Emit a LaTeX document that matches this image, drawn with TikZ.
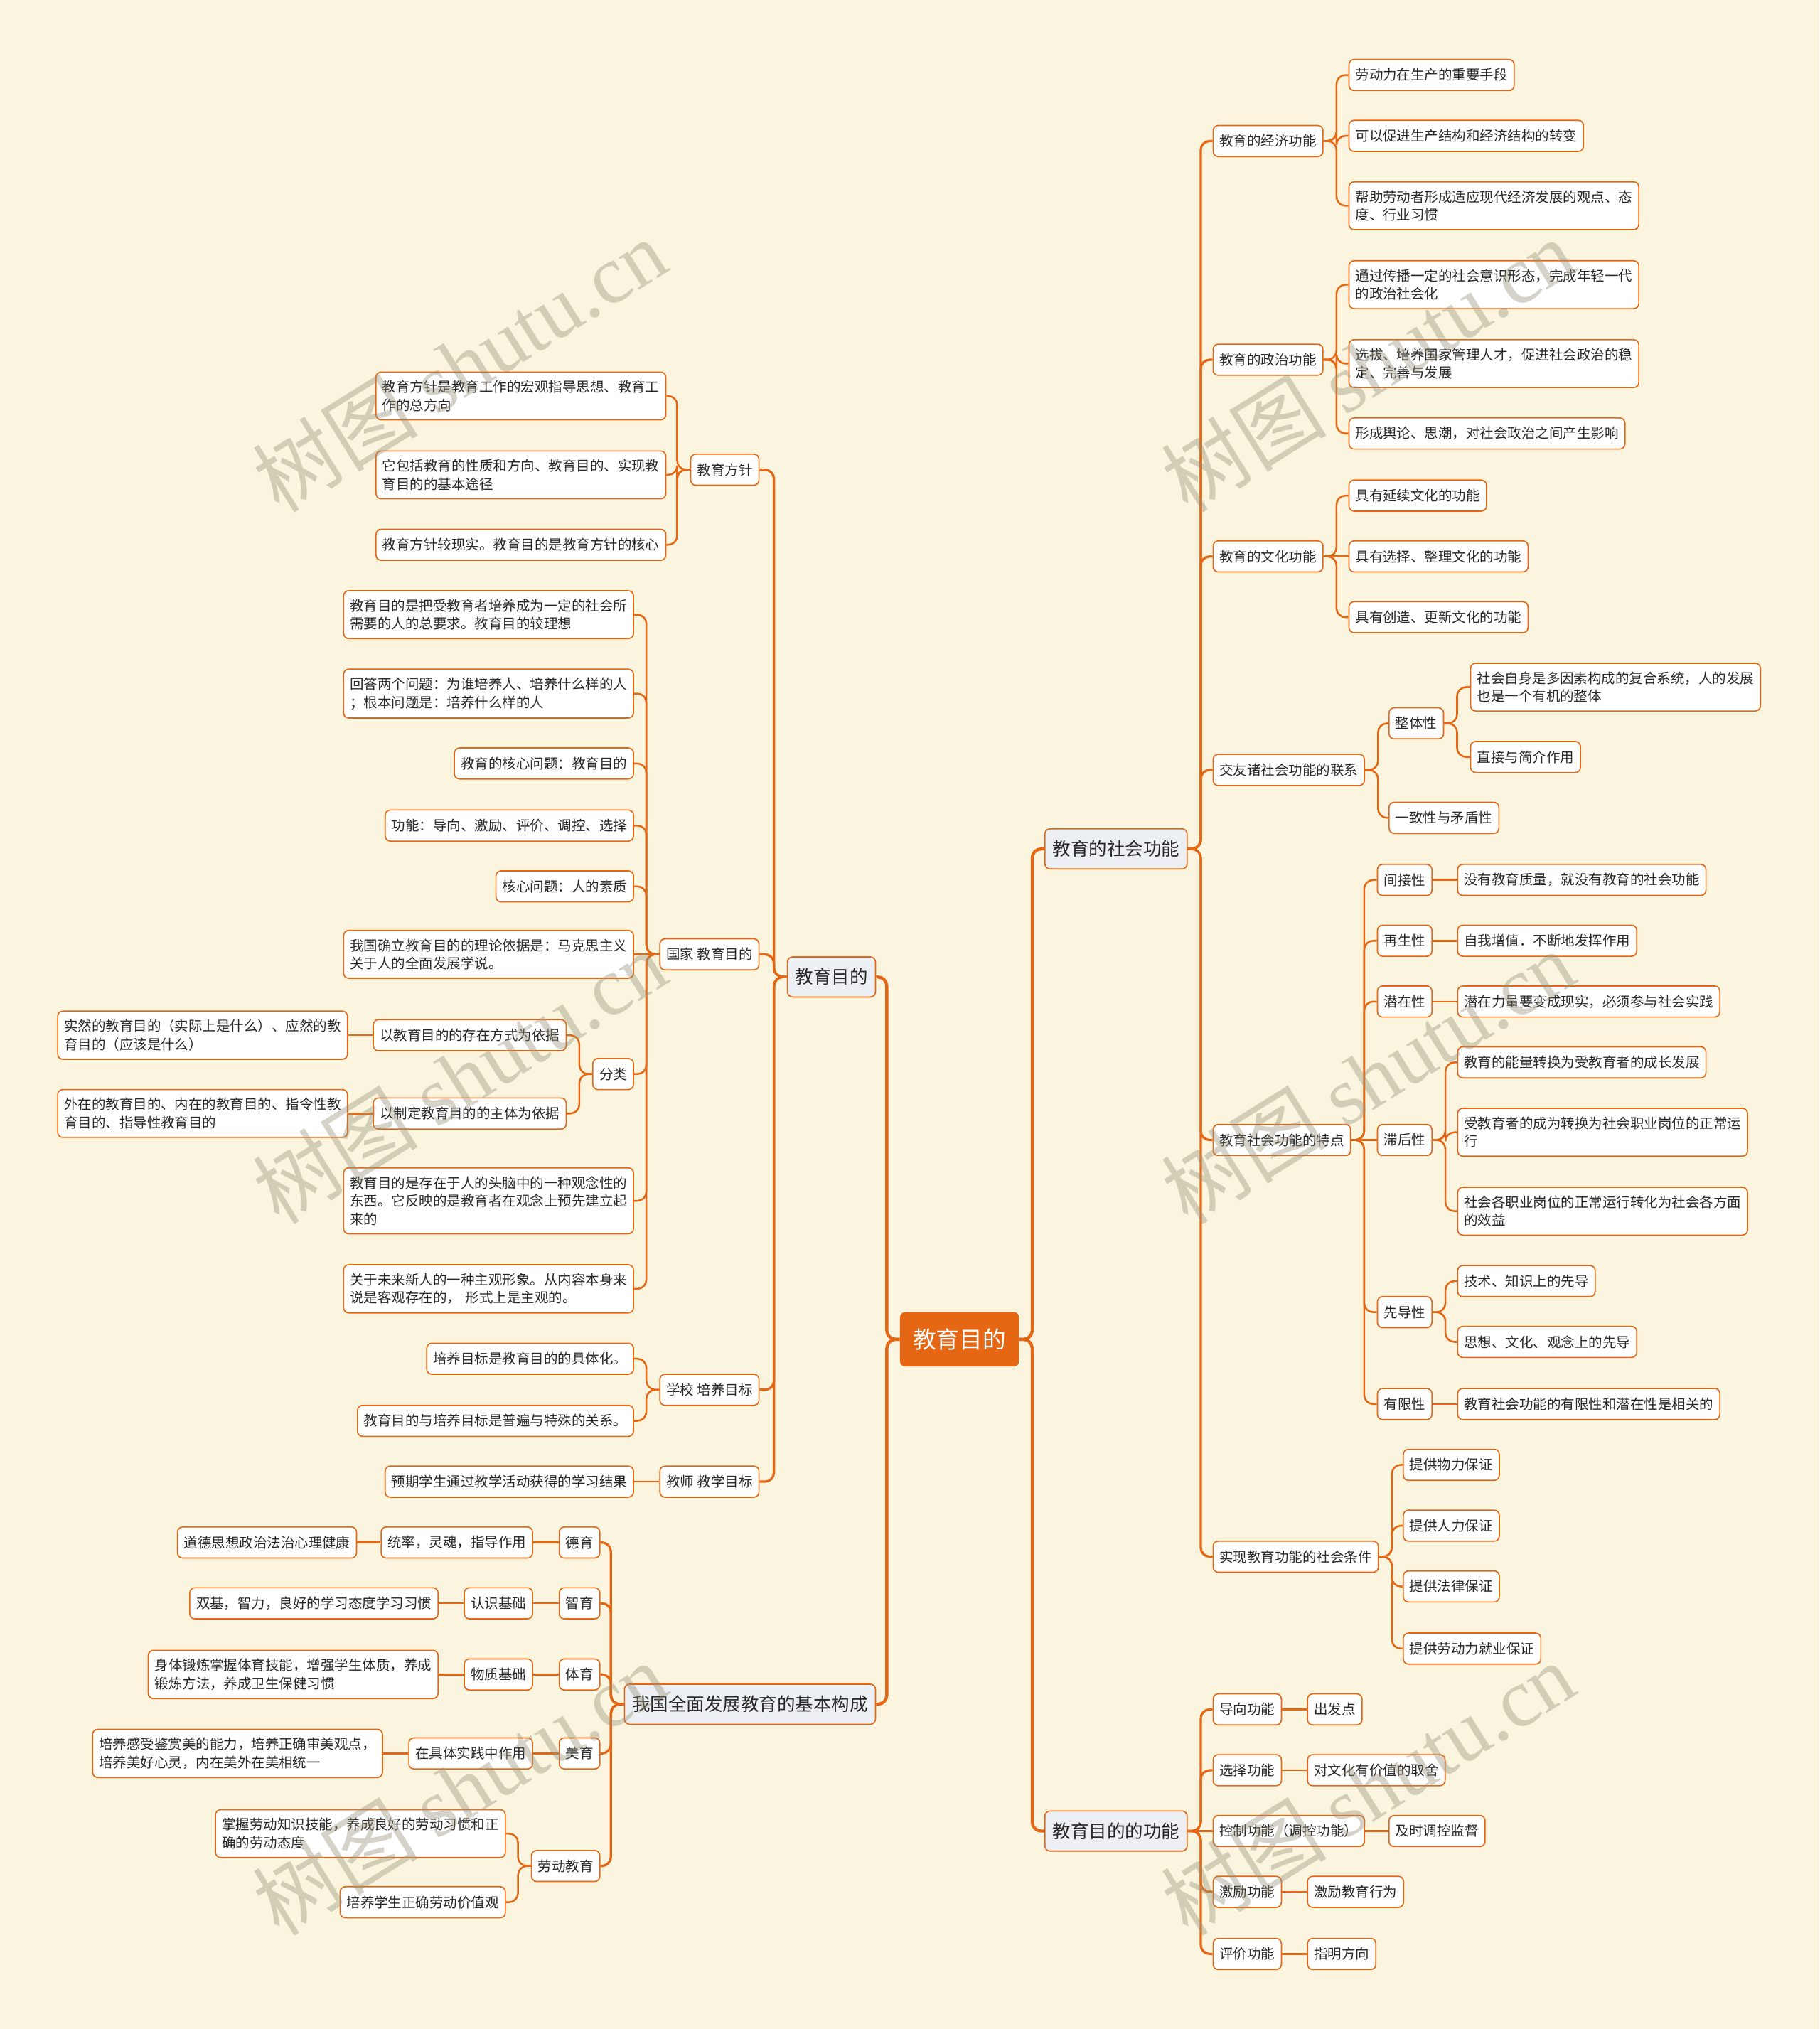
\documentclass[tikz,border=0pt]{standalone}
\usepackage{fontspec}
\setmainfont{Noto Sans CJK SC}
\newfontfamily\wmlatin{Liberation Serif}
\definecolor{crema}{RGB}{251,245,223}
\definecolor{naranja}{RGB}{229,103,20}
\definecolor{grisazul}{RGB}{236,239,243}
\definecolor{tinta}{RGB}{40,40,40}
\definecolor{marca}{RGB}{150,145,120}
\begin{document}
\begin{tikzpicture}[x=1pt,y=-1pt,
    leaf/.style={draw=naranja,line width=0.9pt,fill=white,rounded corners=4pt,text=tinta,
      font=\fontsize{10.7}{14}\selectfont,inner xsep=5pt,inner ysep=0pt,minimum height=24pt},
    wide/.style={leaf,text width=214pt,align=left,inner ysep=6.5pt},
    rl/.style={leaf,anchor=west},
    ll/.style={leaf,anchor=east},
    rw/.style={wide,anchor=west},
    lw/.style={wide,anchor=east},
    main/.style={draw=naranja,line width=0.9pt,fill=grisazul,rounded corners=4pt,text=tinta,
      font=\fontsize{14}{17}\selectfont,inner xsep=6pt,minimum height=31pt},
    root/.style={fill=naranja,rounded corners=4pt,text=white,
      font=\fontsize{18}{20}\selectfont,inner xsep=10pt,minimum height=42pt},
    trunk/.style={draw=naranja,line width=2.4pt,rounded corners=7pt},
    limb/.style={draw=naranja,line width=1.8pt,rounded corners=7pt},
    twig/.style={draw=naranja,line width=1.4pt,rounded corners=7pt},
    wm/.style={text=marca,opacity=0.4,font=\fontsize{64}{64}\selectfont}]
  \useasboundingbox (0,0) rectangle (1406,1568);
  \fill[crema] (0,0) rectangle (1406,1568);

  \node[root] (root) at (741.5,1035) {教育目的};
  \node[main,anchor=west] (soc) at (807,656) {教育的社会功能};
  \node[main,anchor=west] (fun) at (807,1415) {教育目的的功能};
  \node[main,anchor=east] (aim) at (677,755) {教育目的};
  \node[main,anchor=east] (comp) at (677,1317) {我国全面发展教育的基本构成};

  % social functions
  \node[rl] (econ) at (937,109) {教育的经济功能};
  \node[rl] (pol) at (937,278) {教育的政治功能};
  \node[rl] (cult) at (937,430) {教育的文化功能};
  \node[rl] (link) at (937,595) {交友诸社会功能的联系};
  \node[rl] (feat) at (937,881) {教育社会功能的特点};
  \node[rl] (cond) at (937,1203) {实现教育功能的社会条件};

  \node[rl] (e1) at (1042,58) {劳动力在生产的重要手段};
  \node[rl] (e2) at (1042,105) {可以促进生产结构和经济结构的转变};
  \node[rw] (e3) at (1042,159) {帮助劳动者形成适应现代经济发展的观点、态\\度、行业习惯};
  \node[rw] (p1) at (1042,220) {通过传播一定的社会意识形态，完成年轻一代\\的政治社会化};
  \node[rw] (p2) at (1042,281) {选拔、培养国家管理人才，促进社会政治的稳\\定、完善与发展};
  \node[rl] (p3) at (1042,335) {形成舆论、思潮，对社会政治之间产生影响};
  \node[rl] (c1) at (1042,383) {具有延续文化的功能};
  \node[rl] (c2) at (1042,430) {具有选择、整理文化的功能};
  \node[rl] (c3) at (1042,477) {具有创造、更新文化的功能};

  \node[rl] (whole) at (1073,559) {整体性};
  \node[rl] (cons) at (1073,632) {一致性与矛盾性};
  \node[rw] (w1) at (1136,531) {社会自身是多因素构成的复合系统，人的发展\\也是一个有机的整体};
  \node[rl] (w2) at (1136,585) {直接与简介作用};

  \node[rl] (f1) at (1064,680) {间接性};
  \node[rl] (f2) at (1064,727) {再生性};
  \node[rl] (f3) at (1064,774) {潜在性};
  \node[rl] (f4) at (1064,881) {滞后性};
  \node[rl] (f5) at (1064,1014) {先导性};
  \node[rl] (f6) at (1064,1085) {有限性};
  \node[rl] (f1a) at (1126,680) {没有教育质量，就没有教育的社会功能};
  \node[rl] (f2a) at (1126,727) {自我增值．不断地发挥作用};
  \node[rl] (f3a) at (1126,774) {潜在力量要变成现实，必须参与社会实践};
  \node[rl] (f4a) at (1126,821) {教育的能量转换为受教育者的成长发展};
  \node[rw] (f4b) at (1126,875) {受教育者的成为转换为社会职业岗位的正常运\\行};
  \node[rw] (f4c) at (1126,936) {社会各职业岗位的正常运行转化为社会各方面\\的效益};
  \node[rl] (f5a) at (1126,990) {技术、知识上的先导};
  \node[rl] (f5b) at (1126,1037) {思想、文化、观念上的先导};
  \node[rl] (f6a) at (1126,1085) {教育社会功能的有限性和潜在性是相关的};

  \node[rl] (k1) at (1084,1132) {提供物力保证};
  \node[rl] (k2) at (1084,1179) {提供人力保证};
  \node[rl] (k3) at (1084,1226) {提供法律保证};
  \node[rl] (k4) at (1084,1274) {提供劳动力就业保证};

  % functions of the aim
  \node[rl] (g1) at (937,1321) {导向功能};
  \node[rl] (g2) at (937,1368) {选择功能};
  \node[rl] (g3) at (937,1415) {控制功能（调控功能）};
  \node[rl] (g4) at (937,1462) {激励功能};
  \node[rl] (g5) at (937,1510) {评价功能};
  \node[rl] (g1a) at (1010,1321) {出发点};
  \node[rl] (g2a) at (1010,1368) {对文化有价值的取舍};
  \node[rl] (g3a) at (1073,1415) {及时调控监督};
  \node[rl] (g4a) at (1010,1462) {激励教育行为};
  \node[rl] (g5a) at (1010,1510) {指明方向};

  % aim
  \node[ll] (pol0) at (587,363) {教育方针};
  \node[ll] (nat) at (587,737.5) {国家 教育目的};
  \node[ll] (sch) at (587,1074) {学校 培养目标};
  \node[ll] (tea) at (587,1145) {教师 教学目标};

  \node[lw] (a1) at (515,306) {教育方针是教育工作的宏观指导思想、教育工\\作的总方向};
  \node[lw] (a2) at (515,367) {它包括教育的性质和方向、教育目的、实现教\\育目的的基本途径};
  \node[ll] (a3) at (515,421) {教育方针较现实。教育目的是教育方针的核心};

  \node[lw] (n1) at (490,475) {教育目的是把受教育者培养成为一定的社会所\\需要的人的总要求。教育目的较理想};
  \node[lw] (n2) at (490,536) {回答两个问题：为谁培养人、培养什么样的人\\；根本问题是：培养什么样的人};
  \node[ll] (n3) at (490,590) {教育的核心问题：教育目的};
  \node[ll] (n4) at (490,638) {功能：导向、激励、评价、调控、选择};
  \node[ll] (n5) at (490,685) {核心问题：人的素质};
  \node[lw] (n6) at (490,737.5) {我国确立教育目的的理论依据是：马克思主义\\关于人的全面发展学说。};
  \node[ll] (cls) at (490,830) {分类};
  \node[lw] (n7) at (490,928) {教育目的是存在于人的头脑中的一种观念性的\\东西。它反映的是教育者在观念上预先建立起\\来的};
  \node[lw] (n8) at (490,996) {关于未来新人的一种主观形象。从内容本身来\\说是客观存在的， 形式上是主观的。};

  \node[ll] (b1) at (438,800) {以教育目的的存在方式为依据};
  \node[ll] (b2) at (438,860.5) {以制定教育目的的主体为依据};
  \node[lw] (b1a) at (269,800) {实然的教育目的（实际上是什么）、应然的教\\育目的（应该是什么）};
  \node[lw] (b2a) at (269,860.5) {外在的教育目的、内在的教育目的、指令性教\\育目的、指导性教育目的};

  \node[ll] (s1) at (490,1050) {培养目标是教育目的的具体化。};
  \node[ll] (s2) at (490,1098) {教育目的与培养目标是普遍与特殊的关系。};
  \node[ll] (t1) at (490,1145) {预期学生通过教学活动获得的学习结果};

  % components
  \node[ll] (m1) at (464,1192) {德育};
  \node[ll] (m2) at (464,1239) {智育};
  \node[ll] (m3) at (464,1294) {体育};
  \node[ll] (m4) at (464,1355) {美育};
  \node[ll] (m5) at (464,1442) {劳动教育};
  \node[ll] (m1a) at (412,1192) {统率，灵魂，指导作用};
  \node[ll] (m1b) at (276,1192) {道德思想政治法治心理健康};
  \node[ll] (m2a) at (412,1239) {认识基础};
  \node[ll] (m2b) at (339,1239) {双基，智力，良好的学习态度学习习惯};
  \node[ll] (m3a) at (412,1294) {物质基础};
  \node[lw] (m3b) at (339,1294) {身体锻炼掌握体育技能，增强学生体质，养成\\锻炼方法，养成卫生保健习惯};
  \node[ll] (m4a) at (412,1355) {在具体实践中作用};
  \node[lw] (m4b) at (296,1355) {培养感受鉴赏美的能力，培养正确审美观点，\\培养美好心灵，内在美外在美相统一};
  \node[lw] (m5a) at (391,1417) {掌握劳动知识技能，养成良好的劳动习惯和正\\确的劳动态度};
  \node[ll] (m5b) at (391,1470) {培养学生正确劳动价值观};

  % connectors
  \foreach \c in {soc,fun} \draw[trunk] (root.east) -- ++(10,0) |- (\c.west);
  \foreach \c in {aim,comp} \draw[trunk] (root.west) -- ++(-10,0) |- (\c.east);
  \foreach \c in {econ,pol,cult,link,feat,cond} \draw[limb] (soc.east) -- ++(10,0) |- (\c.west);
  \foreach \c in {g1,g2,g4,g5} \draw[limb] (fun.east) -- ++(10,0) |- (\c.west);
  \draw[limb] (fun.east) -- (g3.west);
  \foreach \c in {pol0,nat,sch,tea} \draw[limb] (aim.west) -- ++(-10,0) |- (\c.east);
  \foreach \c in {m1,m2,m3,m4,m5} \draw[limb] (comp.west) -- ++(-10,0) |- (\c.east);

  \foreach \p/\c in {econ/e1,econ/e2,econ/e3,pol/p1,pol/p2,pol/p3,cult/c1,cult/c3,
      link/whole,link/cons,whole/w1,whole/w2,feat/f1,feat/f2,feat/f3,feat/f5,feat/f6,
      f4/f4a,f4/f4b,f4/f4c,f5/f5a,f5/f5b,cond/k1,cond/k2,cond/k3,cond/k4}
    \draw[twig] (\p.east) -- ++(10,0) |- (\c.west);
  \foreach \p/\c in {cult/c2,feat/f4,f1/f1a,f2/f2a,f3/f3a,f6/f6a,
      g1/g1a,g2/g2a,g3/g3a,g4/g4a,g5/g5a}
    \draw[twig] (\p.east) -- (\c.west);
  \foreach \p/\c in {pol0/a1,pol0/a2,pol0/a3,nat/n1,nat/n2,nat/n3,nat/n4,nat/n5,nat/cls,
      nat/n7,nat/n8,cls/b1,cls/b2,sch/s1,sch/s2,m5/m5a,m5/m5b}
    \draw[twig] (\p.west) -- ++(-10,0) |- (\c.east);
  \foreach \p/\c in {nat/n6,b1/b1a,b2/b2a,tea/t1,m1/m1a,m1a/m1b,m2/m2a,m2a/m2b,
      m3/m3a,m3a/m3b,m4/m4a,m4a/m4b}
    \draw[twig] (\p.west) -- (\c.east);

  % watermark
  \foreach \x/\y in {355/282,1057/282,355/832,1057/832,355/1382,1057/1382}
    \node[wm,rotate=32] at (\x,\y) {树图 {\wmlatin shutu.cn}};
\end{tikzpicture}
\end{document}
